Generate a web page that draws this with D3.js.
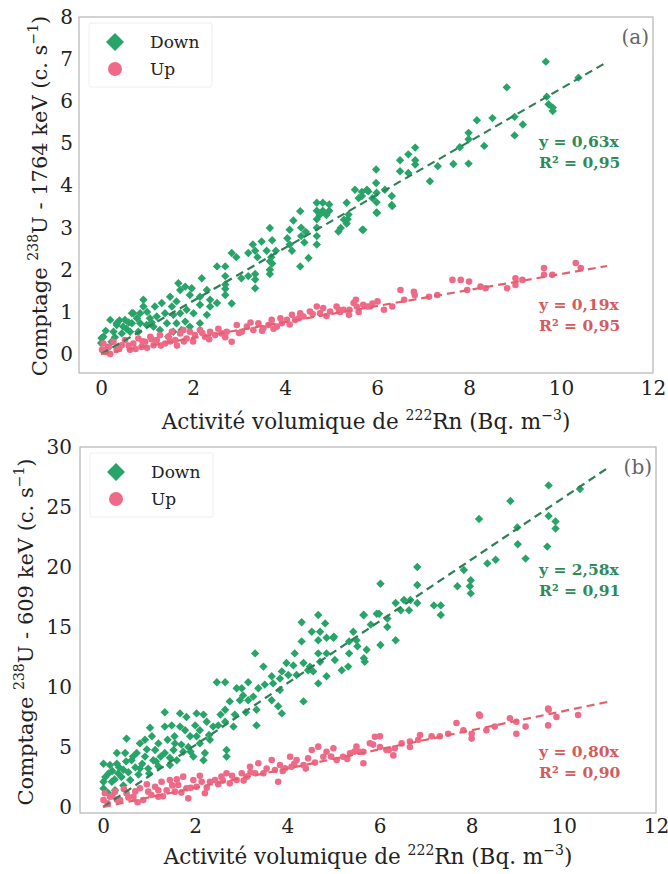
<!DOCTYPE html>
<html><head><meta charset="utf-8">
<script src="https://cdn.jsdelivr.net/npm/d3@7"></script>
<style>body{margin:0;background:#fff}svg{display:block}</style>
</head><body><svg id="c" width="668" height="874"></svg>
<script>
// ---------- data ----------
const xTicks = [0, 2, 4, 6, 8, 10, 12];
const yTicksA = [0, 1, 2, 3, 4, 5, 6, 7, 8];
const yTicksB = [0, 5, 10, 15, 20, 25, 30];
const seriesNames = ["Down", "Up"];
const panelTags = ["(a)", "(b)"];
const yLabelEnergy = ["1764", "609"];
const slopesA = [0.63, 0.19];
const slopesB = [2.58, 0.80];
const fitTextA = [["y = 0,63x", "R² = 0,95"], ["y = 0,19x", "R² = 0,95"]];
const fitTextB = [["y = 2,58x", "R² = 0,91"], ["y = 0,80x", "R² = 0,90"]];

const downA = [
[1.50,1.36],[1.64,1.25],[1.32,1.21],[1.54,1.13],[1.17,1.13],[1.39,0.97],[1.57,0.93],[1.72,0.97],[1.86,1.05],[2.01,0.97],
[1.21,0.89],[1.06,0.85],[0.92,1.13],[0.85,0.97],[0.70,0.97],[0.52,0.81],[0.67,0.73],[0.85,0.73],[0.99,0.69],[0.20,0.81],
[0.34,0.73],[0.48,0.65],[0.27,0.53],[0.45,0.49],[0.63,0.53],[0.81,0.53],[0.05,0.41],[0.23,0.29],[1.43,0.73],[1.64,0.73],
[1.83,0.77],[1.93,0.65],[1.75,0.57],[1.57,0.53],[1.28,0.57],[1.14,0.65],[1.46,0.41],[1.68,1.68],[1.83,1.60],[1.97,1.56],
[1.72,1.52],[1.93,1.40],[2.15,1.36],[2.30,1.52],[2.37,1.29],[2.15,1.17],[2.37,1.13],[2.52,1.21],[2.30,0.93],[2.15,0.73],
[2.19,1.80],[2.52,2.08],[2.70,2.08],[2.70,1.85],[2.70,1.65],[2.70,1.55],[2.70,1.40],[2.84,1.20],[2.84,2.40],[2.94,2.30],
[3.20,1.85],[3.05,1.80],[3.35,1.90],[3.35,1.77],[3.35,1.56],[3.49,2.67],[3.30,2.60],[3.20,2.40],[3.40,2.30],[3.35,2.45],
[3.67,2.99],[3.72,2.70],[3.60,2.45],[3.80,2.45],[3.70,2.30],[3.72,2.15],[3.67,2.20],[3.67,2.00],[3.67,1.90],[4.33,3.39],
[4.18,3.17],[4.35,3.00],[4.45,2.90],[4.35,2.80],[4.42,2.65],[4.10,2.95],[4.05,2.75],[4.10,2.60],[4.15,2.45],[4.33,2.08],
[4.51,2.28],[4.69,3.59],[4.82,3.59],[4.96,3.55],[4.69,3.40],[4.82,3.40],[4.96,3.40],[4.75,3.30],[4.90,3.30],[4.69,3.20],
[4.69,3.00],[4.69,2.80],[4.69,2.60],[5.34,3.59],[5.38,3.31],[5.36,3.20],[5.34,3.10],[5.16,2.91],[5.70,2.95],[5.52,3.90],
[5.78,3.90],[5.60,3.70],[5.90,3.70],[5.98,4.38],[5.98,4.06],[5.99,3.83],[5.99,3.60],[5.99,3.36],[5.81,3.86],[5.67,3.85],
[5.67,3.75],[6.17,3.90],[6.32,3.75],[6.32,3.54],[6.50,4.60],[6.68,4.74],[6.83,4.90],[6.83,4.60],[6.83,4.50],[6.50,4.34],
[6.68,4.30],[7.15,4.10],[7.32,4.46],[7.66,4.51],[7.99,4.52],[7.80,4.91],[8.33,4.94],[7.99,5.25],[7.99,5.10],[8.17,5.55],
[8.51,5.60],[8.99,5.63],[9.17,5.45],[8.99,5.19],[9.67,6.94],[8.82,6.33],[10.38,6.56],[9.69,6.11],[9.73,5.93],[9.82,5.77],
[9.82,5.85],[6.00,3.35],[6.33,3.51],[0.01,0.38],[0.00,0.26],[0.10,0.55],[0.34,0.69],[0.67,0.97],[0.92,1.29],[0.40,0.80],
[0.55,0.60],[0.15,0.15],[0.30,0.40],[0.60,0.75],[1.00,1.00],[1.10,0.75],[0.78,0.85],[5.21,2.99],[5.28,3.19],[5.68,2.95]
];
const upA = [
[0.02,0.10],[0.05,0.25],[0.16,0.17],[0.27,0.29],[0.34,0.10],[0.45,0.21],[0.52,0.33],[0.63,0.10],[0.70,0.25],[0.81,0.37],
[0.88,0.17],[0.96,0.29],[1.07,0.41],[1.14,0.21],[1.21,0.33],[1.28,0.45],[1.39,0.25],[1.46,0.41],[1.54,0.53],[1.61,0.33],
[1.72,0.49],[1.79,0.57],[1.86,0.37],[1.93,0.53],[2.04,0.45],[2.15,0.57],[2.26,0.41],[2.37,0.53],[2.48,0.45],[2.62,0.49],
[2.73,0.53],[2.84,0.29],[2.95,0.69],[3.06,0.53],[3.17,0.65],[3.31,0.57],[3.42,0.73],[3.53,0.61],[3.64,0.69],[3.71,0.81],
[3.82,0.65],[3.93,0.73],[4.04,0.81],[4.15,0.93],[4.22,0.81],[4.33,0.97],[4.40,0.89],[4.54,1.01],[4.69,1.13],[4.76,0.97],
[4.83,1.09],[4.98,1.01],[5.12,1.13],[5.27,1.05],[5.49,1.21],[5.56,1.13],[5.70,1.17],[5.85,1.13],[6.01,1.25],
[0.10,0.05],[0.20,0.00],[0.40,0.15],[0.60,0.20],[0.75,0.12],[0.90,0.30],[1.00,0.15],[1.10,0.35],[1.30,0.20],[1.50,0.30],
[1.65,0.20],[1.80,0.30],[2.00,0.30],[2.20,0.50],[2.35,0.35],[2.55,0.60],[2.70,0.40],[3.00,0.50],[3.25,0.75],[3.50,0.55],
[3.75,0.60],[3.90,0.85],[4.10,0.70],[4.30,0.85],[4.60,0.95],[4.90,0.90],[5.20,1.00],[5.40,1.05],[5.60,1.00],[5.90,1.20],
[5.17,1.05],[5.39,0.93],[5.54,1.29],[5.79,1.13],[6.15,1.05],[6.33,1.13],[6.51,1.52],[6.59,1.29],[6.80,1.48],[6.82,1.40],
[7.13,1.36],[7.31,1.40],[7.64,1.76],[7.82,1.76],[8.00,1.72],[7.96,1.52],[8.25,1.60],[8.36,1.56],[8.83,1.56],[9.01,1.80],
[9.01,1.64],[9.16,1.76],[9.63,2.04],[9.63,1.88],[9.81,1.88],[10.32,2.16],[10.43,2.04]
];
const downB = [
[4.31,15.4],[4.67,16.0],[4.82,15.3],[4.53,14.6],[4.71,14.6],[4.85,14.1],[5.00,14.1],[4.67,13.9],[4.31,13.8],[4.67,12.8],
[4.85,12.8],[4.71,12.1],[5.03,12.25],[4.85,10.9],[4.67,10.3],[4.49,11.7],[4.35,12.0],[4.13,11.8],[3.98,12.0],[4.16,12.8],
[3.88,11.3],[3.66,10.9],[3.84,10.7],[4.02,11.0],[4.20,11.0],[4.45,11.4],[4.56,11.3],[4.35,8.8],[3.48,11.7],[3.30,12.8],
[3.15,10.4],[3.01,9.9],[3.04,9.3],[3.15,8.9],[3.26,9.2],[3.37,9.9],[3.51,10.2],[3.69,10.3],[3.84,9.75],[3.66,8.9],
[3.80,8.4],[3.88,7.8],[3.33,8.1],[3.33,6.8],[2.97,8.9],[2.75,8.8],[2.65,8.1],[2.86,7.7],[2.83,6.7],[2.65,7.1],
[2.50,6.8],[2.47,10.4],[2.65,10.4],[2.39,6.7],[2.25,7.1],[2.18,7.7],[2.03,7.8],[2.00,6.8],[1.81,7.5],[1.67,7.8],
[1.34,7.9],[1.67,6.7],[1.49,6.8],[1.34,6.7],[1.78,6.4],[1.89,5.9],[2.03,5.9],[2.10,5.3],[2.32,5.6],[2.21,4.5],
[2.18,3.9],[1.96,4.2],[1.85,5.0],[1.74,4.6],[1.56,5.3],[1.53,4.75],[1.60,3.9],[1.45,3.5],[1.34,4.5],[1.20,5.3],
[1.13,4.75],[1.02,6.6],[0.91,5.6],[1.06,5.9],[0.80,5.3],[0.73,4.5],[0.91,4.2],[1.09,3.9],[1.20,3.4],[0.98,3.2],
[0.80,3.2],[0.62,3.9],[0.51,5.7],[0.48,4.5],[0.30,4.5],[0.30,3.6],[0.15,3.5],[0.12,2.8],[0.19,2.1],[0.33,2.8],
[0.44,3.1],[0.59,2.25],[0.77,2.7],[0.01,3.6],[0.01,2.1],[0.01,1.55],[0.26,1.4],[0.44,1.8],[5.72,13.1],[5.68,12.1],
[5.50,13.9],[5.65,16.0],[5.94,16.1],[5.43,14.6],[5.32,11.7],[5.18,11.4],[2.68,4.75],[2.68,4.2],
[5.01,14.2],[5.34,13.8],[5.52,13.4],[5.66,12.4],[5.34,12.8],[6.02,13.5],[6.35,13.9],[6.17,15.0],[5.99,16.1],[5.81,15.2],
[5.66,16.0],[6.17,15.7],[6.35,17.0],[6.53,17.25],[6.67,17.25],[6.82,17.0],[6.46,16.4],[6.64,16.4],[7.18,16.8],[7.33,16.8],
[7.33,16.0],[6.82,18.5],[6.82,20.0],[6.02,18.6],[7.83,19.75],[7.69,18.4],[7.98,18.9],[7.98,17.8],[8.34,20.3],[8.52,20.6],
[8.16,24.0],[8.84,25.5],[8.99,23.3],[9.00,21.9],[9.17,20.7],[9.64,21.7],[9.67,24.25],[9.82,23.8],[9.82,23.2],[9.67,26.8],
[10.35,26.5],[7.96,18.4],
[0.05,2.5],[0.10,1.2],[0.20,3.0],[0.25,2.3],[0.35,3.3],[0.40,2.5],[0.50,3.8],[0.55,2.9],[0.65,4.2],[0.70,3.3],
[0.85,3.6],[0.95,4.8],[1.00,2.8],[1.15,3.8],[1.25,4.2],[1.40,5.6],[1.45,4.1],[1.55,5.9],[1.70,5.2],[1.90,4.6],
[2.10,6.4],[2.30,6.0],[2.55,7.7],[2.90,9.9],[3.10,7.9]
];
const upB = [
[0.01,0.58],[0.04,1.14],[0.15,0.86],[0.26,1.28],[0.37,0.58],[0.51,1.14],[0.66,0.86],[0.80,1.56],[0.87,0.58],[0.98,1.28],
[1.13,1.69],[1.20,0.86],[1.27,2.11],[1.38,1.40],[1.45,2.25],[1.56,1.28],[1.63,1.83],[1.74,2.53],[1.81,1.56],[1.85,0.72],
[1.96,2.25],[2.03,1.69],[2.14,2.11],[2.21,1.14],[2.32,2.11],[2.43,2.25],[2.57,2.53],[2.68,2.81],[2.75,1.97],[2.90,2.25],
[3.01,2.81],[3.12,2.53],[3.19,3.36],[3.30,2.81],[3.37,3.64],[3.48,2.81],[3.66,3.92],[3.73,3.08],[3.80,2.11],[3.84,3.50],
[3.95,3.22],[4.06,4.19],[4.09,3.36],[4.20,3.92],[4.35,3.50],[4.45,4.06],[4.53,4.75],[4.67,5.03],[4.78,4.19],[4.85,4.61],
[5.00,4.89],[5.07,3.92],[5.21,4.19],[5.36,4.47],[5.50,5.03],[5.65,4.61],[5.65,3.64],[5.79,5.31],[5.90,5.86],
[5.57,4.6],[5.86,5.2],[6.01,5.9],[6.01,5.0],[6.15,4.75],[6.20,4.75],[6.30,4.3],[6.33,4.9],[6.48,5.3],[6.66,5.45],
[6.66,5.0],[6.84,5.6],[6.88,6.0],[7.13,5.9],[7.31,5.9],[7.49,6.1],[7.67,7.0],[7.82,6.4],[8.00,6.1],[8.00,5.7],
[8.18,7.6],[8.32,6.4],[8.50,6.7],[8.83,7.4],[8.97,7.1],[8.97,6.1],[9.17,6.7],[9.66,8.2],[9.66,6.8],[9.84,7.5],
[10.31,7.67],[8.16,7.7],[9.67,8.1],
[0.10,0.30],[0.20,0.90],[0.30,0.60],[0.45,1.50],[0.55,0.80],[0.70,1.30],[0.75,0.40],[0.95,1.90],[1.05,1.00],[1.20,1.40],
[1.30,0.90],[1.50,1.80],[1.60,2.30],[1.70,1.20],[1.90,1.60],[2.10,2.60],[2.25,1.60],[2.50,1.90],[2.60,2.20],[2.80,2.60],
[3.05,2.20],[3.20,2.90],[3.55,3.20],[3.90,3.00],[4.15,3.60],[4.40,3.20],[4.60,3.70],[4.95,4.20],[5.30,4.00],[5.45,4.60]
];

// ---------- style ----------
const FONT = "'DejaVu Serif', serif";
const greenPt = "#27a468", pinkPt = "#ef6a88";
const greenLine = "#2f7f56", redLine = "#e2616e";
const greenTxt = "#2e8a58", redTxt = "#d55a5c";

const svg = d3.select("#c");

function diamond(r){ return `M0,${-r}L${r},0L0,${r}L${-r},0Z`; }

function panel(cfg){
  const g = svg.append("g");
  const x = d3.scaleLinear().domain(cfg.xd).range([cfg.l, cfg.r]);
  const y = d3.scaleLinear().domain(cfg.yd).range([cfg.b, cfg.t]);
  g.append("rect").attr("x",cfg.l).attr("y",cfg.t).attr("width",cfg.r-cfg.l).attr("height",cfg.b-cfg.t)
    .attr("fill","#fff").attr("stroke","#b5b5b5").attr("stroke-width",1.2);
  const ax = g.append("g").attr("transform",`translate(0,${cfg.b})`)
    .call(d3.axisBottom(x).tickValues(xTicks).tickSize(0).tickPadding(cfg.xPad).tickFormat(d3.format("d")));
  ax.select(".domain").remove();
  ax.selectAll("text").style("font-family",FONT).style("font-size","20px").attr("fill","#222");
  const ay = g.append("g").attr("transform",`translate(${cfg.l},0)`)
    .call(d3.axisLeft(y).tickValues(cfg.yTicks).tickSize(0).tickPadding(cfg.yPad).tickFormat(d3.format("d")));
  ay.select(".domain").remove();
  ay.selectAll("text").style("font-family",FONT).style("font-size","20px").attr("fill","#222");

  g.append("g").selectAll("path").data(cfg.down).join("path")
    .attr("d", diamond(4.2))
    .attr("transform", d => `translate(${x(d[0])},${y(d[1])})`)
    .attr("fill", greenPt);
  g.append("g").selectAll("circle").data(cfg.up).join("circle")
    .attr("cx", d => x(d[0])).attr("cy", d => y(d[1])).attr("r", 3.3)
    .attr("fill", pinkPt);

  const line = d3.line().x(d => x(d[0])).y(d => y(d[1]));
  [[cfg.slopes[0], greenLine],[cfg.slopes[1], redLine]].forEach(([s,c]) => {
    g.append("path").datum([[0,0],[11,s*11]]).attr("d", line)
      .attr("stroke", c).attr("stroke-width", 2.2).attr("fill","none").attr("stroke-dasharray","8,5");
  });

  const ft = cfg.fitText;
  [[ft[0], greenTxt, cfg.fitY[0]],[ft[1], redTxt, cfg.fitY[1]]].forEach(([t,c,yy]) => {
    t.forEach((s,i) => g.append("text").attr("x", 539).attr("y", yy + i*21)
      .style("font-family",FONT).style("font-weight","bold").style("font-size","15.5px")
      .attr("fill", c).text(s));
  });

  g.append("text").attr("x", cfg.r - 4).attr("y", cfg.t + 27).attr("text-anchor","end")
    .style("font-family",FONT).style("font-size","20px").attr("fill","#666").text(cfg.tag);

  const lx = cfg.l + 36, ly = cfg.t + 25;
  g.append("rect").attr("x", cfg.l + 10).attr("y", cfg.t + 6).attr("width", 123).attr("height", 64)
    .attr("fill","#fff").attr("stroke","#eee").attr("rx",2);
  g.append("path").attr("d", diamond(9)).attr("transform",`translate(${lx},${ly})`).attr("fill", greenPt);
  g.append("circle").attr("cx", lx).attr("cy", ly + 27).attr("r", 7).attr("fill", pinkPt);
  seriesNames.forEach((n,i) => g.append("text").attr("x", lx + 35).attr("y", ly + 6 + i*27)
    .style("font-family",FONT).style("font-size","17px").attr("fill","#222").text(n));

  const xl = g.append("text").attr("x", (cfg.l + cfg.r)/2).attr("y", cfg.xLabY).attr("text-anchor","middle")
    .style("font-family",FONT).style("font-size","21.5px").attr("fill","#222");
  xl.append("tspan").text("Activité volumique de ");
  xl.append("tspan").style("font-size","14px").attr("dy", -9).text("222");
  xl.append("tspan").attr("dy", 9).text("Rn (Bq. m");
  xl.append("tspan").style("font-size","14px").attr("dy", -9).text("−3");
  xl.append("tspan").attr("dy", 9).text(")");

  const yl = g.append("text").attr("transform", `translate(${cfg.yLabX},${cfg.yLabC}) rotate(-90)`)
    .attr("text-anchor","middle").style("font-family",FONT).style("font-size","21px").attr("fill","#222");
  yl.append("tspan").text("Comptage ");
  yl.append("tspan").style("font-size","14px").attr("dy", -9).text("238");
  yl.append("tspan").attr("dy", 9).text(`U - ${cfg.energy} keV (c. s`);
  yl.append("tspan").style("font-size","14px").attr("dy", -9).text("−1");
  yl.append("tspan").attr("dy", 9).text(")");
}

panel({l:79, r:653, t:17, b:373, xd:[-0.48,12], yd:[-0.45,8], yTicks:yTicksA, xPad:8, yPad:6,
  down:downA, up:upA, slopes:slopesA, fitText:fitTextA, fitY:[147,310], tag:panelTags[0],
  xLabY:429, yLabX:47, yLabC:196, energy:yLabelEnergy[0]});
panel({l:80, r:656, t:447, b:813, xd:[-0.5,12], yd:[-0.5,30], yTicks:yTicksB, xPad:6, yPad:8,
  down:downB, up:upB, slopes:slopesB, fitText:fitTextB, fitY:[575,757], tag:panelTags[1],
  xLabY:864, yLabX:33, yLabC:632, energy:yLabelEnergy[1]});
</script></body></html>
